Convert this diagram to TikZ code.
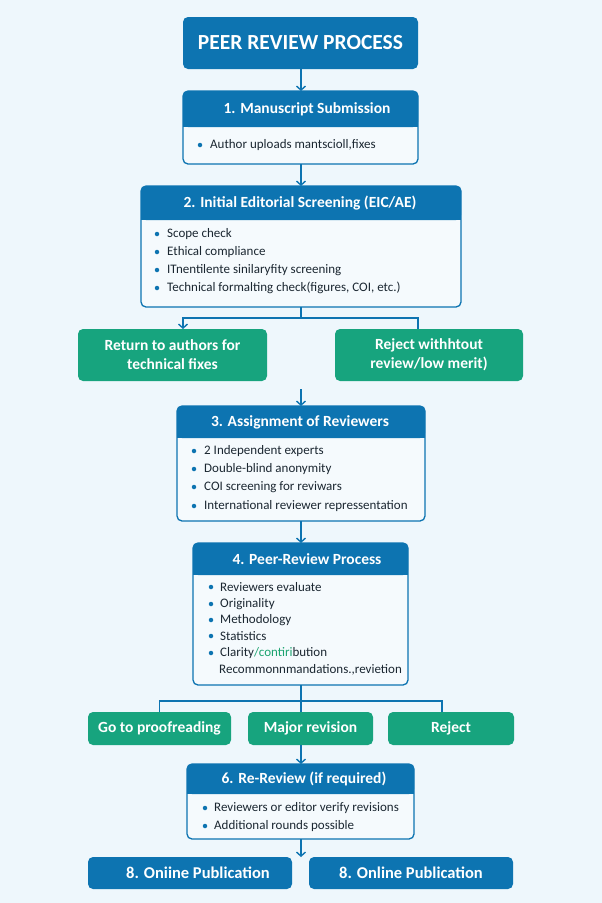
\documentclass[tikz,border=0pt]{standalone}
\usepackage{fontspec}
\setmainfont{Carlito}
\usetikzlibrary{arrows.meta,calc}
\definecolor{bg}{HTML}{EEF7FC}
\definecolor{pblue}{HTML}{0D74B1}
\definecolor{bodyw}{HTML}{F5FAFD}
\definecolor{pgreen}{HTML}{17A47E}
\definecolor{txt}{HTML}{1B2731}
\definecolor{gtxt}{HTML}{1BA36F}
\begin{document}
\begin{tikzpicture}[x=1pt,y=-1pt,
 frame/.style={draw=pblue,line width=1.3pt,rounded corners=5pt,fill=bodyw,inner sep=0,outer sep=0},
 bluebox/.style={fill=pblue,rounded corners=5pt,inner sep=0,outer sep=0,text=white,font=\fontsize{16.5}{19}\selectfont\bfseries},
 greenbox/.style={fill=pgreen,rounded corners=5pt,inner sep=0,outer sep=0,text=white,font=\fontsize{15.5}{19}\selectfont\bfseries,align=center},
 hdr/.style={text=white,font=\fontsize{15.5}{18}\selectfont\bfseries,inner sep=0},
 item/.style={text=txt,font=\fontsize{13}{15}\selectfont,anchor=west,inner sep=0},
 dot/.style={circle,fill=pblue,inner sep=0,minimum size=4.5pt},
 arr/.style={draw=pblue,line width=1.4pt,-{Straight Barb[length=4pt,width=9pt]}},
 conn/.style={draw=pblue,line width=1.4pt},
]
\fill[bg] (0,0) rectangle (602,903);
\useasboundingbox (0,0) rectangle (602,903);

% title
\node[bluebox,minimum width=235pt,minimum height=52pt,font=\fontsize{21.5}{24}\selectfont\bfseries] (t) at (300.5,43) {PEER REVIEW PROCESS};

% box 1
\node[frame,minimum width=235pt,minimum height=73pt,anchor=north west] (b1) at (183,91) {};
\fill[pblue,rounded corners=5pt] (b1.north west) rectangle (b1.east |- 0,127);
\fill[pblue] ($(b1.west |- 0,127)+(0,-6)$) rectangle (b1.east |- 0,127);
\node[hdr] (b1h) at (307,109) {1. Manuscript Submission};
\node[dot] (b1d1) at (200,145) {};
\node[item] (b1i1) at (210,145) {Author uploads mantscioll,fixes};

% box 2
\node[frame,minimum width=320pt,minimum height=121pt,anchor=north west] (b2) at (141,186) {};
\fill[pblue,rounded corners=5pt] (b2.north west) rectangle (b2.east |- 0,220);
\fill[pblue] ($(b2.west |- 0,220)+(0,-6)$) rectangle (b2.east |- 0,220);
\node[hdr] (b2h) at (300,203) {2. Initial Editorial Screening (EIC/AE)};
\node[dot] (b2d1) at (157,234) {};
\node[item] (b2i1) at (167,234) {Scope check};
\node[dot] (b2d2) at (157,252) {};
\node[item] (b2i2) at (167,252) {Ethical compliance};
\node[dot] (b2d3) at (157,270) {};
\node[item] (b2i3) at (167,270) {ITnentilente sinilaryfity screening};
\node[dot] (b2d4) at (157,288) {};
\node[item] (b2i4) at (167,288) {Technical formalting check(figures, COI, etc.)};

% green decisions
\node[greenbox,minimum width=189pt,minimum height=52pt] (g1) at (172.5,355) {Return to authors for\\technical fixes};
\node[greenbox,minimum width=188pt,minimum height=52pt] (g2) at (429,355) {Reject withhtout\\review/low merit)};
\coordinate (s2) at (301,318);
\draw[conn] (b2.south) -- (s2);
\draw[arr] (s2) -| ([xshift=10.5pt]g1.north);
\draw[conn] (s2) -| ([xshift=-11pt]g2.north);

% box 3
\node[frame,minimum width=248pt,minimum height=115pt,anchor=north west] (b3) at (177,406) {};
\fill[pblue,rounded corners=5pt] (b3.north west) rectangle (b3.east |- 0,438);
\fill[pblue] ($(b3.west |- 0,438)+(0,-6)$) rectangle (b3.east |- 0,438);
\node[hdr] (b3h) at (300,422) {3. Assignment of Reviewers};
\node[dot] (b3d1) at (194,451) {};
\node[item] (b3i1) at (204,451) {2 Independent experts};
\node[dot] (b3d2) at (194,469) {};
\node[item] (b3i2) at (204,469) {Double-blind anonymity};
\node[dot] (b3d3) at (194,487) {};
\node[item] (b3i3) at (204,487) {COI screening for reviwars};
\node[dot] (b3d4) at (194,506) {};
\node[item] (b3i4) at (204,506) {International reviewer repressentation};
\coordinate (a3) at (301,389);
\draw[arr] (a3) -- (b3.north -| a3);

% box 4
\node[frame,minimum width=215pt,minimum height=142pt,anchor=north west] (b4) at (193,543) {};
\fill[pblue,rounded corners=5pt] (b4.north west) rectangle (b4.east |- 0,575);
\fill[pblue] ($(b4.west |- 0,575)+(0,-6)$) rectangle (b4.east |- 0,575);
\node[hdr] (b4h) at (307,559) {4. Peer-Review Process};
\node[dot] (b4d1) at (211,587) {};
\node[item] (b4i1) at (220,587) {Reviewers evaluate};
\node[dot] (b4d2) at (211,604) {};
\node[item] (b4i2) at (220,604) {Originality};
\node[dot] (b4d3) at (211,620) {};
\node[item] (b4i3) at (220,620) {Methodology};
\node[dot] (b4d4) at (211,636) {};
\node[item] (b4i4) at (220,636) {Statistics};
\node[dot] (b4d5) at (211,653) {};
\node[item] (b4i5) at (220,653) {Clarity\textcolor{gtxt}{/contiri}bution};
\node[item] (b4i6) at (219,670) {Recommonnmandations.,revietion};
\draw[arr] (b3.south -| a3) -- (b4.north -| a3);

% outcome row
\node[greenbox,minimum width=143pt,minimum height=33pt] (r1) at (159.5,728.5) {Go to proofreading};
\node[greenbox,minimum width=125pt,minimum height=33pt] (r2) at (310.5,728.5) {Major revision};
\node[greenbox,minimum width=126pt,minimum height=33pt] (r3) at (451,728.5) {Reject};
\coordinate (s4) at (301,701);
\draw[conn] (b4.south -| s4) -- (s4);
\draw[conn] (s4) -| (r1.north);
\draw[conn] (s4) -| ([xshift=-9pt]r3.north);
\draw[conn] (s4) -- (r2.north -| s4);

% box 6
\node[frame,minimum width=227pt,minimum height=75pt,anchor=north west] (b6) at (187,764) {};
\fill[pblue,rounded corners=5pt] (b6.north west) rectangle (b6.east |- 0,794);
\fill[pblue] ($(b6.west |- 0,794)+(0,-6)$) rectangle (b6.east |- 0,794);
\node[hdr] (b6h) at (304,779) {6. Re-Review (if required)};
\node[dot] (b6d1) at (205,808) {};
\node[item] (b6i1) at (214,808) {Reviewers or editor verify revisions};
\node[dot] (b6d2) at (205,826) {};
\node[item] (b6i2) at (214,826) {Additional rounds possible};
\draw[arr] (r2.south -| s4) -- (b6.north -| s4);

% publication
\node[bluebox,minimum width=204pt,minimum height=32pt] (p1) at (190,873) {\hspace*{16pt}8. Oniine Publication};
\node[bluebox,minimum width=204pt,minimum height=32pt] (p2) at (411,873) {8. Online Publication};
\draw[arr] (b6.south -| s4) -- (p1.north -| s4);

% top arrows
\draw[arr] (t.south -| s4) -- (b1.north -| s4);
\draw[arr] (b1.south -| s4) -- (b2.north -| s4);
\end{tikzpicture}
\end{document}
